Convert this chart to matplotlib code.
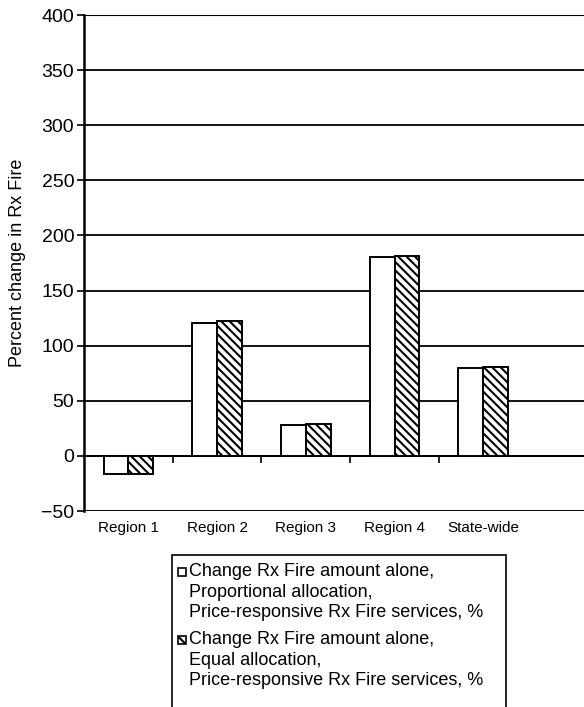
import numpy as np
import matplotlib
matplotlib.use("Agg")
import matplotlib.pyplot as plt
from matplotlib.patches import Rectangle

# values
regions = ["Region 1", "Region 2", "Region 3", "Region 4", "State-wide"]
proportional = [-16, 121, 28, 180, 80]
equal = [-16, 122, 29, 181, 81]
y_ticks = [-50, 0, 50, 100, 150, 200, 250, 300, 350, 400]
legend_labels = [
    "Change Rx Fire amount alone,\nProportional allocation,\nPrice-responsive Rx Fire services, %",
    "Change Rx Fire amount alone,\nEqual allocation,\nPrice-responsive Rx Fire services, %",
]
legend_hatches = [None, "\\\\\\\\"]

plt.rcParams["font.family"] = ["Liberation Sans", "DejaVu Sans"]
plt.rcParams["hatch.linewidth"] = 1.5

W, H = 584, 707
fig = plt.figure(figsize=(W / 100, H / 100), dpi=100)
ax = fig.add_axes([84 / W, 1 - 511 / H, 1 - 84 / W + 0.01, (511 - 15) / H])

x = np.arange(len(regions))
w = 0.28
ax.bar(x - w / 2, proportional, w, color="white", edgecolor="black", linewidth=1.4, zorder=3)
ax.bar(x + w / 2, equal, w, color="white", edgecolor="black", linewidth=1.4,
       hatch=legend_hatches[1], zorder=3)

ax.set_ylim(-50, 400)
ax.set_xlim(-0.5, 5.2)
ax.set_yticks(y_ticks)
ax.set_yticklabels(["\u221250"] + [str(v) for v in y_ticks[1:]], fontsize=14)
ax.yaxis.grid(True, color="black", linewidth=1.3, zorder=0)
ax.tick_params(axis="y", direction="out", length=5, width=1.2, pad=2)

# zero line carries the ticks between categories
ax.spines["bottom"].set_position(("data", 0))
ax.spines["bottom"].set_linewidth(1.3)
ax.set_xticks(x[:-1] + 0.5)
ax.set_xticklabels([])
ax.tick_params(axis="x", direction="out", length=5, width=1.2)
ax.spines["right"].set_visible(False)
ax.spines["top"].set_visible(False)
ax.spines["left"].set_linewidth(1.8)
ax.axhline(-50, color="black", linewidth=1.8, zorder=4)
ax.axhline(400, color="black", linewidth=1.5, zorder=4)

sec = ax.secondary_xaxis(0.0)
sec.set_xticks(x)
sec.set_xticklabels(regions, fontsize=11)
sec.tick_params(length=0, pad=7)
sec.spines["bottom"].set_visible(False)

ax.set_ylabel("Percent change in Rx Fire", fontsize=13, labelpad=11)

# legend box drawn by hand so the swatch sits on the first line of each entry
def fx(px):
    return px / W


def fy(py):
    return 1 - py / H


fig.add_artist(Rectangle((fx(172), fy(720)), fx(506) - fx(172), fy(555) - fy(720),
                         transform=fig.transFigure, facecolor="white", edgecolor="black",
                         linewidth=1.2))
tops = [563, 631]
for label, hatch, top in zip(legend_labels, legend_hatches, tops):
    fig.add_artist(Rectangle((fx(178), fy(top + 13)), fx(8), fy(0) - fy(8),
                             transform=fig.transFigure, facecolor="white", edgecolor="black",
                             linewidth=1.2, hatch=hatch))
    fig.text(fx(189), fy(top), label, fontsize=13, va="top", ha="left", linespacing=1.27)

fig.savefig("out.png", dpi=100)
